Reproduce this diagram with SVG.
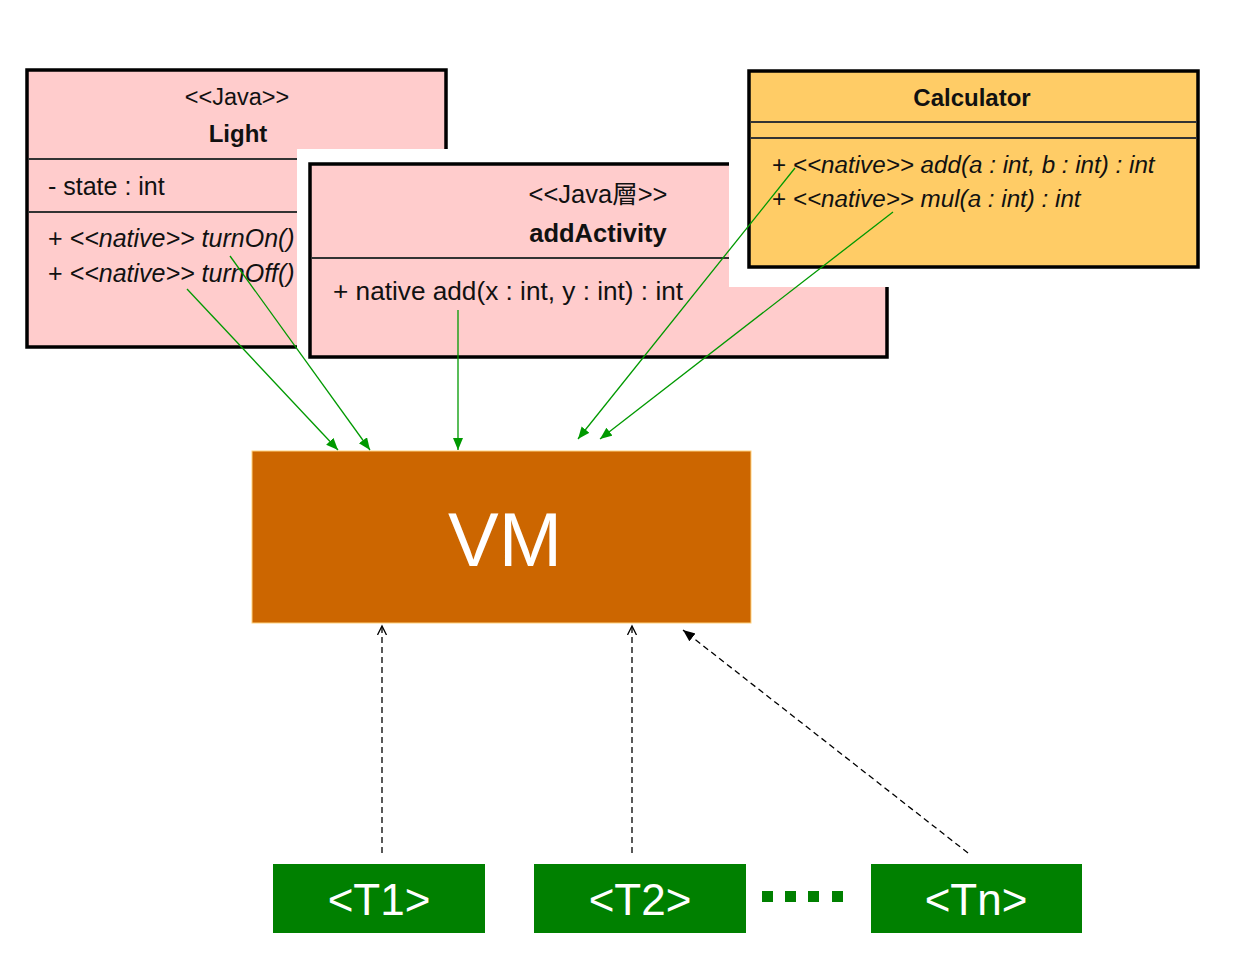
<svg xmlns="http://www.w3.org/2000/svg" width="1250" height="960" viewBox="0 0 1250 960">
<style>
.cls{stroke:#000;stroke-width:3.5}
.pink{fill:#FFCCCC}
.div{stroke:#333;stroke-width:2}
.t{font-family:"Liberation Sans",Arial,"Noto Sans CJK SC",sans-serif;fill:#111}
.b{font-weight:bold}
.i{font-style:italic}
.g{stroke:#009900;stroke-width:1.3;fill:none}
.d{stroke:#000;stroke-width:1.3;fill:none;stroke-dasharray:6 4}
.tb{fill:#008000}
.tt{font-family:"Liberation Sans",Arial,sans-serif;fill:#fff;font-size:44px;text-anchor:middle}
</style>
<defs>
<marker id="ga" markerUnits="userSpaceOnUse" markerWidth="14" markerHeight="12" refX="12" refY="5" orient="auto">
<path d="M0,0 L12,5 L0,10 z" fill="#009900"/>
</marker>
<marker id="oa" markerUnits="userSpaceOnUse" markerWidth="12" markerHeight="12" refX="9" refY="5" orient="auto">
<path d="M0,0.5 L9,5 L0,9.5" fill="none" stroke="#000" stroke-width="1.3"/>
</marker>
<marker id="fa" markerUnits="userSpaceOnUse" markerWidth="14" markerHeight="12" refX="12" refY="5" orient="auto">
<path d="M0,0 L12,5 L0,10 z" fill="#000"/>
</marker>
</defs>
<rect width="1250" height="960" fill="#fff"/>

<g id="light">
<rect class="cls pink" x="27" y="70" width="419" height="277"/>
<line class="div" x1="28" y1="159" x2="445" y2="159"/>
<line class="div" x1="28" y1="212" x2="445" y2="212"/>
<text class="t" x="237" y="105" font-size="23.5" text-anchor="middle">&lt;&lt;Java&gt;&gt;</text>
<text class="t b" x="238" y="142" font-size="24" text-anchor="middle">Light</text>
<text class="t" x="48" y="195" font-size="25">- state : int</text>
<text class="t" x="48" y="247" font-size="25">+ <tspan class="i">&lt;&lt;native&gt;&gt; turnOn()</tspan></text>
<text class="t" x="48" y="282" font-size="25">+ <tspan class="i">&lt;&lt;native&gt;&gt; turnOff()</tspan></text>
</g>

<g id="addActivity">
<rect x="297" y="149" width="600" height="220" fill="#fff"/>
<rect class="cls pink" x="310" y="164" width="577" height="193"/>
<line class="div" x1="311" y1="258" x2="886" y2="258"/>
<text class="t" x="598" y="203" font-size="25.5" text-anchor="middle">&lt;&lt;Java層&gt;&gt;</text>
<text class="t b" x="598" y="242" font-size="25.5" text-anchor="middle">addActivity</text>
<text class="t" x="333" y="300" font-size="26.2">+ native add(x : int, y : int) : int</text>
</g>

<g id="calculator">
<rect x="729" y="55" width="490" height="232" fill="#fff"/>
<rect class="cls" x="749" y="71" width="449" height="196" fill="#FFCC66"/>
<line class="div" x1="750" y1="122" x2="1197" y2="122"/>
<line class="div" x1="750" y1="138" x2="1197" y2="138"/>
<text class="t b" x="972" y="106" font-size="24" text-anchor="middle">Calculator</text>
<text class="t" x="772" y="173" font-size="24.2">+ <tspan class="i">&lt;&lt;native&gt;&gt; add(a : int, b : int) : int</tspan></text>
<text class="t" x="772" y="207" font-size="24.2">+ <tspan class="i">&lt;&lt;native&gt;&gt; mul(a : int) : int</tspan></text>
</g>

<g id="vm">
<rect x="252" y="451" width="499" height="172" fill="#CC6600" stroke="#FFD27F" stroke-width="1"/>
<text x="505" y="566" font-family="Liberation Sans,Arial,sans-serif" font-size="76" fill="#fff" text-anchor="middle">VM</text>
</g>

<g id="t1">
<rect class="tb" x="273" y="864" width="212" height="69"/>
<text class="tt" x="379" y="915">&lt;T1&gt;</text>
</g>
<g id="t2">
<rect class="tb" x="534" y="864" width="212" height="69"/>
<text class="tt" x="640" y="915">&lt;T2&gt;</text>
</g>
<g id="ellipsis" fill="#008000">
<rect x="762" y="891" width="11" height="11"/>
<rect x="785" y="891" width="11" height="11"/>
<rect x="808" y="891" width="11" height="11"/>
<rect x="832" y="891" width="11" height="11"/>
</g>
<g id="tn">
<rect class="tb" x="871" y="864" width="211" height="69"/>
<text class="tt" x="976" y="915">&lt;Tn&gt;</text>
</g>

<g id="connectors">
<line class="g" x1="187" y1="289" x2="338" y2="450" marker-end="url(#ga)"/>
<line class="g" x1="230" y1="256" x2="370" y2="450" marker-end="url(#ga)"/>
<line class="g" x1="458" y1="310" x2="458" y2="450" marker-end="url(#ga)"/>
<line class="g" x1="795" y1="168" x2="578" y2="439" marker-end="url(#ga)"/>
<line class="g" x1="893" y1="212" x2="600" y2="439" marker-end="url(#ga)"/>
<line class="d" x1="382" y1="853" x2="382" y2="626" marker-end="url(#oa)"/>
<line class="d" x1="632" y1="853" x2="632" y2="626" marker-end="url(#oa)"/>
<line class="d" x1="968" y1="853" x2="683" y2="630" marker-end="url(#fa)"/>
</g>
</svg>
